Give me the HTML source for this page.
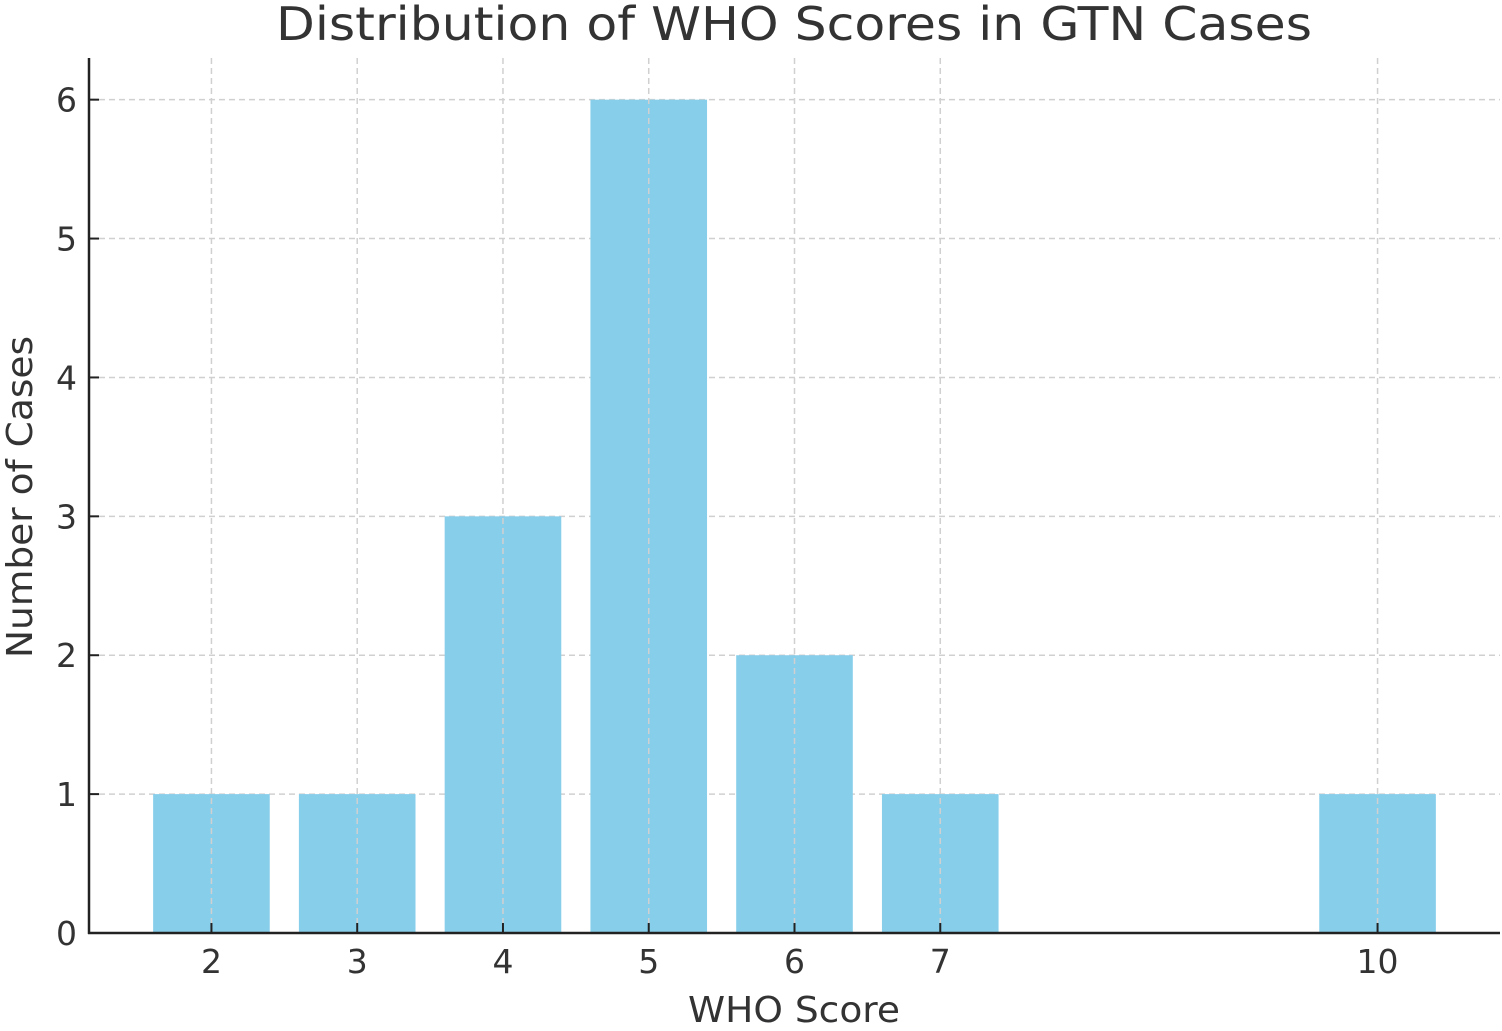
<!DOCTYPE html>
<html><head><meta charset="utf-8"><style>
html,body{margin:0;padding:0;background:#fff;}
svg text{font-family:"DejaVu Sans","Liberation Sans",sans-serif;fill:#333;}
</style></head><body>
<svg id="chart" width="1502" height="1026" xmlns="http://www.w3.org/2000/svg">
<text x="794" y="40" font-size="46" text-anchor="middle" textLength="1036" lengthAdjust="spacingAndGlyphs">Distribution of WHO Scores in GTN Cases</text>
<g id="grid"></g><g id="bars"></g><g id="axes"></g>
<text x="794" y="1022" font-size="36" text-anchor="middle" textLength="212" lengthAdjust="spacingAndGlyphs">WHO Score</text>
<text transform="translate(32,497) rotate(-90)" font-size="36" text-anchor="middle" textLength="322" lengthAdjust="spacingAndGlyphs">Number of Cases</text>
</svg>
<script>
const categories = [2, 3, 4, 5, 6, 7, 10];
const counts = [1, 1, 3, 6, 2, 1, 1];
const yTicks = [0, 1, 2, 3, 4, 5, 6];
const NS = "http://www.w3.org/2000/svg";
const L = 89, R = 1500, B = 933, T = 58;
const xmin = 1.16, xmax = 10.84, ymax = 6.3;
const xs = v => L + (v - xmin) / (xmax - xmin) * (R - L);
const ys = v => B - v / ymax * (B - T);
function mk(tag, attrs, parent) { const e = document.createElementNS(NS, tag); for (const k in attrs) e.setAttribute(k, attrs[k]); parent.appendChild(e); return e; }
const grid = document.getElementById('grid'), bars = document.getElementById('bars'), axes = document.getElementById('axes');
yTicks.forEach(t => {
  const y = ys(t);
  if (t > 0) {
    const g = mk('line', {x1: L, x2: R, y1: y, y2: y, stroke: '#d0d0d0', 'stroke-width': 1.5, 'stroke-dasharray': '6,4'}, grid);
    
    
  }
  const tk = mk('line', {x1: L, x2: L + 10, y1: y, y2: y, stroke: '#222', 'stroke-width': 2}, axes);
  
  
  const lb = mk('text', {x: L - 12, y: y + 12, 'font-size': 33, 'text-anchor': 'end'}, axes);
  lb.textContent = t;
  
  
});
categories.forEach((c, i) => {
  const x = xs(c), w = xs(0.8) - xs(0);
  const r = mk('rect', {x: x - w / 2, y: ys(counts[i]), width: w, height: B - ys(counts[i]), fill: '#87ceeb'}, bars);
  
  
  const g = mk('line', {x1: x, x2: x, y1: T, y2: B, stroke: '#d0d0d0', 'stroke-width': 1.5, 'stroke-dasharray': '6,4'}, axes);
  
  
  const tk = mk('line', {x1: x, x2: x, y1: B, y2: B - 10, stroke: '#222', 'stroke-width': 2}, axes);
  
  
  const lb = mk('text', {x: x, y: B + 40, 'font-size': 33, 'text-anchor': 'middle'}, axes);
  lb.textContent = c;
  
  
});
const sl = mk('line', {x1: L, x2: L, y1: T, y2: B + 1, stroke: '#222', 'stroke-width': 2.5}, axes);


const sb = mk('line', {x1: L - 1, x2: R, y1: B, y2: B, stroke: '#222', 'stroke-width': 2.5}, axes);


</script>
</body></html>
